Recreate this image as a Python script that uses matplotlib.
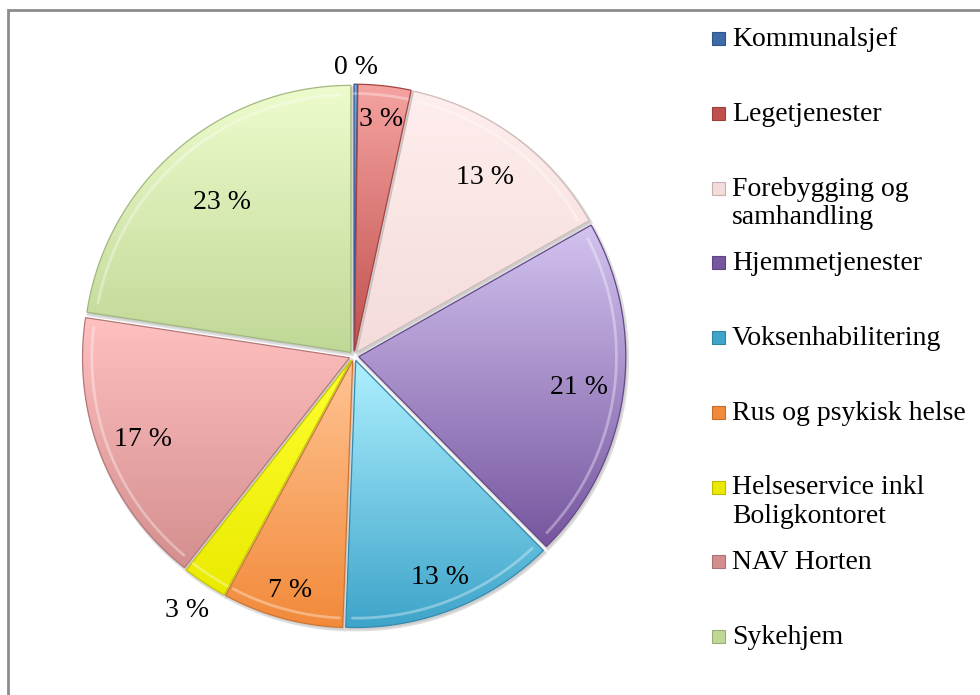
import numpy as np
import matplotlib
matplotlib.use("Agg")
import matplotlib.pyplot as plt
from matplotlib.colors import LinearSegmentedColormap, to_rgb
from matplotlib.patches import Rectangle

# ---- data -------------------------------------------------------------------
kategorier = ["Kommunalsjef", "Legetjenester", "Forebygging og\nsamhandling",
              "Hjemmetjenester", "Voksenhabilitering", "Rus og psykisk helse",
              "Helseservice inkl\nBoligkontoret", "NAV Horten", "Sykehjem"]
andel = [0.2, 3.2, 13.4, 20.8, 13.0, 7.3, 2.7, 16.8, 22.6]

# gradient (top, bottom) per slice
farger = [("#7fa3d6", "#3d6aa8"), ("#f5a3a1", "#c0504d"), ("#feeeed", "#f4dcdb"),
          ("#d3c3f0", "#76569f"), ("#aef0ff", "#3ea4ca"), ("#ffc494", "#f28a3a"),
          ("#ffff30", "#eaea00"), ("#ffc0c0", "#d48e8e"), ("#eefccd", "#c0d896")]
# label distance (fraction of radius) per slice
lab_dist = [1.08, 0.89, 0.83, 0.85, 0.89, 0.91, 1.14, 0.85, 0.76]

plt.rcParams["font.family"] = ["Liberation Serif", "DejaVu Serif"]
FS = 20

fig = plt.figure(figsize=(9.8, 6.95), dpi=100)
W, H = 980, 695
cxp, cyp, half = 354, 356, 330   # pie centre and axes half-size in pixels
ax = fig.add_axes([(cxp - half) / W, (H - cyp - half) / H, 2 * half / W, 2 * half / H])
ax.axis("off")

wedges, _ = ax.pie(andel, startangle=90, counterclock=False, radius=1.0,
                   explode=[0.018] * len(andel),
                   wedgeprops=dict(facecolor="none", edgecolor="none"))

for w, (top, bot), v, d in zip(wedges, farger, andel, lab_dist):
    cx, cy = w.center
    t = np.radians(np.linspace(w.theta1, w.theta2, 100))
    xs = np.concatenate([[cx], cx + w.r * np.cos(t)])
    ys = np.concatenate([[cy], cy + w.r * np.sin(t)])
    # soft shadow
    sh = plt.Polygon(np.c_[xs + 0.006, ys - 0.008], closed=True,
                     facecolor="#b8b8b8", edgecolor="#c8c8c8", lw=2.5,
                     alpha=0.6, zorder=1)
    ax.add_patch(sh)
    cmap = LinearSegmentedColormap.from_list("g", [to_rgb(bot), to_rgb(top)])
    grad = np.linspace(0, 1, 256).reshape(-1, 1)
    im = ax.imshow(grad, cmap=cmap, origin="lower", aspect="auto",
                   extent=[xs.min(), xs.max(), ys.min(), ys.max()], zorder=2)
    poly = plt.Polygon(np.c_[xs, ys], closed=True, facecolor="none",
                       edgecolor=np.array(to_rgb(bot)) * 0.85, lw=0.9, zorder=3)
    ax.add_patch(poly)
    im.set_clip_path(poly)
    # bevel highlight along the outer arc
    ax.plot(cx + 0.965 * w.r * np.cos(t[3:-3]), cy + 0.965 * w.r * np.sin(t[3:-3]),
            color="white", lw=2, alpha=0.35, zorder=3, solid_capstyle="round")
    mid = np.radians((w.theta1 + w.theta2) / 2)
    ax.text(d * np.cos(mid), d * np.sin(mid), f"{v:.0f} %",
            ha="center", va="center", fontsize=FS, zorder=5)

# radius 1.0 -> ~267 px
lim = half / 267
ax.set_xlim(-lim, lim)
ax.set_ylim(-lim, lim)
ax.set_aspect("equal")

# ---- legend (manual, Excel-like spacing) ------------------------------------
for i, (navn, (top, bot)) in enumerate(zip(kategorier, farger)):
    y = 38 + i * 74.75
    fig.add_artist(Rectangle((712 / W, 1 - (y + 7) / H), 13 / W, 13 / H,
                             transform=fig.transFigure, facecolor=bot,
                             edgecolor=np.array(to_rgb(bot)) * 0.8, lw=0.8))
    fig.text(732 / W, 1 - (y - 11) / H, navn, ha="left", va="top",
             fontsize=FS, linespacing=1.2)

# outer frame
fig.add_artist(Rectangle((8 / W, -0.1), 1.2, 1 - 10 / H + 0.1,
                         transform=fig.transFigure, fill=False,
                         edgecolor="#8c8c8c", lw=2))

fig.savefig("out.png", dpi=100)
